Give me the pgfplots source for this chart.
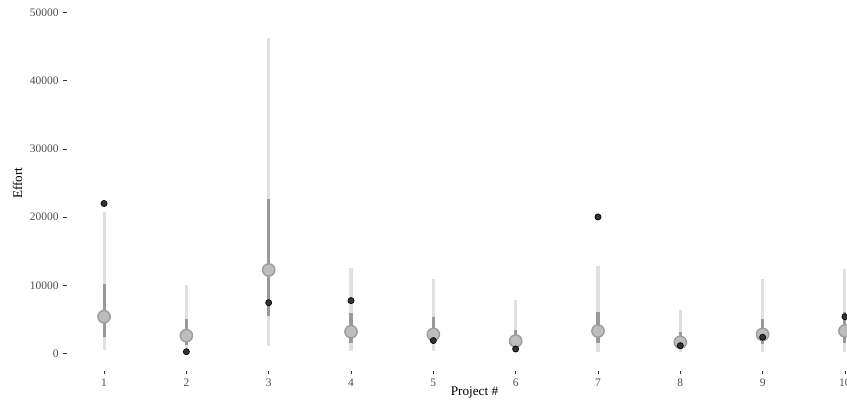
\documentclass[border=0pt]{standalone}
\usepackage{pgfplots}
\pgfplotsset{compat=1.18}
\usepackage{pgfplotstable}
\usepackage{fontspec}
\setmainfont{Liberation Serif}
\definecolor{lightbar}{HTML}{E0E0E0}
\definecolor{darkbar}{HTML}{999999}
\definecolor{medfill}{HTML}{BDBDBD}
\definecolor{medline}{HTML}{9E9E9E}
\definecolor{actfill}{HTML}{333333}
\definecolor{ticktext}{HTML}{4D4D4D}
\pgfplotstableread{
x llo lhi dlo dhi med act
1 560 20800 2460 10150 5400 22000
2 300 9980 1250 5020 2610 260
3 1100 46250 5550 22600 12250 7450
4 370 12500 1600 5900 3200 7750
5 370 11000 1400 5400 2800 1900
6 300 7850 900 3450 1830 660
7 260 12900 1500 6050 3300 20030
8 200 6400 800 3100 1640 1150
9 260 10900 1400 5000 2800 2380
10 260 12350 1500 6150 3300 5400
}\data
\begin{document}
\begin{tikzpicture}
\path[use as bounding box, clip] (0,0) rectangle (635.25pt,308.25pt);
\begin{axis}[
  at={(50.25pt,30.35pt)}, anchor=south west,
  scale only axis, width=611.25pt, height=281.2pt,
  xmin=0.55, xmax=10.45, ymin=-2500, ymax=52500,
  clip=false,
  axis x line*=bottom, axis y line*=left,
  axis line style={draw=none},
  xtick={1,2,3,4,5,6,7,8,9,10},
  ytick={0,10000,20000,30000,40000,50000},
  scaled y ticks=false, scaled x ticks=false,
  minor tick num=0,
  tick align=outside, major tick length=2.75pt,
  tick style={color=black!80, line width=0.65pt},
  ticklabel style={font=\fontsize{8.6}{10}\selectfont, text=ticktext},
  /pgf/number format/.cd, fixed, 1000 sep={}, assume math mode=true,
  /pgfplots/.cd,
  xlabel={Project \#}, ylabel={Effort},
  label style={font=\fontsize{9.9}{11}\selectfont},
  xlabel style={at={(rel axis cs:0.5,0)}, anchor=base, yshift=-18.4pt},
  ylabel style={at={(rel axis cs:0,0.5)}, anchor=center, rotate=0, yshift=37.1pt},
]
\addplot[draw=none, mark=none, error bars/.cd, y dir=both, y explicit, error mark=none,
  error bar style={draw=lightbar, line width=2.3pt}]
  table[x=x, y=med, y error plus expr=\thisrow{lhi}-\thisrow{med}, y error minus expr=\thisrow{med}-\thisrow{llo}] {\data};
\addplot[draw=none, mark=none, error bars/.cd, y dir=both, y explicit, error mark=none,
  error bar style={draw=darkbar, line width=2.3pt}]
  table[x=x, y=med, y error plus expr=\thisrow{dhi}-\thisrow{med}, y error minus expr=\thisrow{med}-\thisrow{dlo}] {\data};
\addplot[only marks, mark=*, mark size=4.6pt, mark options={fill=medfill, draw=medline, line width=1.1pt}]
  table[x=x, y=med] {\data};
\addplot[only marks, mark=*, mark size=2.3pt, mark options={fill=actfill, draw=black, line width=0.5pt}]
  table[x=x, y=act] {\data};
\end{axis}
\end{tikzpicture}
\end{document}
